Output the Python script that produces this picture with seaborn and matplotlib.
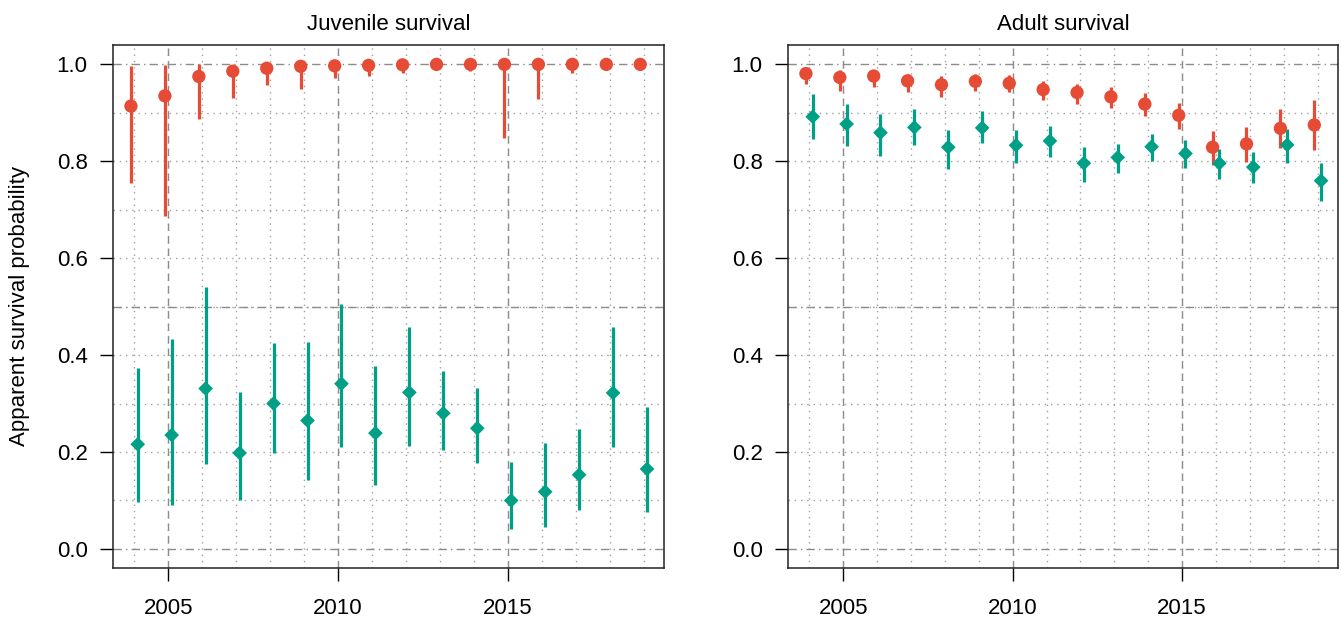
import numpy as np
import pandas as pd
import matplotlib
matplotlib.use("Agg")
import matplotlib.pyplot as plt
import seaborn as sns

# survival estimates by year (mean, lower and upper credible bounds)
years = np.arange(2004, 2020)

juv_red_mean = [0.914, 0.935, 0.975, 0.986, 0.992, 0.996, 0.997, 0.998,
                0.999, 1.000, 1.000, 1.000, 1.000, 1.000, 1.000, 1.000]
juv_red_low = [0.756, 0.687, 0.888, 0.931, 0.958, 0.950, 0.971, 0.975,
               0.983, 0.998, 0.986, 0.849, 0.929, 0.983, 0.999, 0.999]
juv_red_high = [0.996, 0.998, 1.000, 0.999, 1.000, 1.000, 1.000, 1.000,
                1.000, 1.000, 1.000, 1.000, 1.000, 1.000, 1.000, 1.000]

juv_green_mean = [0.216, 0.235, 0.331, 0.198, 0.300, 0.265, 0.341, 0.239,
                  0.323, 0.280, 0.249, 0.100, 0.118, 0.153, 0.322, 0.165]
juv_green_low = [0.096, 0.090, 0.175, 0.101, 0.197, 0.142, 0.210, 0.131,
                 0.213, 0.205, 0.177, 0.042, 0.045, 0.081, 0.210, 0.076]
juv_green_high = [0.373, 0.434, 0.541, 0.324, 0.426, 0.428, 0.506, 0.378,
                  0.459, 0.368, 0.332, 0.180, 0.219, 0.247, 0.459, 0.293]

ad_red_mean = [0.981, 0.973, 0.976, 0.966, 0.958, 0.965, 0.961, 0.948,
               0.942, 0.933, 0.918, 0.895, 0.829, 0.836, 0.868, 0.875]
ad_red_low = [0.959, 0.946, 0.954, 0.942, 0.933, 0.946, 0.942, 0.927,
              0.919, 0.911, 0.894, 0.867, 0.793, 0.798, 0.828, 0.824]
ad_red_high = [0.989, 0.988, 0.989, 0.981, 0.975, 0.981, 0.978, 0.966,
               0.960, 0.953, 0.940, 0.920, 0.862, 0.871, 0.907, 0.926]

ad_green_mean = [0.892, 0.877, 0.859, 0.870, 0.829, 0.869, 0.833, 0.842,
                 0.796, 0.808, 0.830, 0.816, 0.796, 0.788, 0.834, 0.760]
ad_green_low = [0.846, 0.832, 0.811, 0.834, 0.784, 0.837, 0.797, 0.808,
                0.757, 0.776, 0.801, 0.787, 0.763, 0.755, 0.796, 0.718]
ad_green_high = [0.938, 0.918, 0.897, 0.907, 0.864, 0.903, 0.864, 0.873,
                 0.829, 0.836, 0.856, 0.844, 0.825, 0.819, 0.867, 0.797]

panel_titles = ["Juvenile survival", "Adult survival"]
group_names = ["red", "green"]
group_colors = {"red": "#E64B35", "green": "#00A087"}
group_markers = {"red": "o", "green": "D"}
group_sizes = {"red": 92, "green": 56}
group_shift = {"red": -0.1, "green": 0.1}


def make_frame(red, green):
    rows = []
    for name, (m, lo, hi) in zip(group_names, [red, green]):
        rows.append(pd.DataFrame({"year": years, "group": name,
                                  "mean": m, "low": lo, "high": hi}))
    df = pd.concat(rows, ignore_index=True)
    df["xpos"] = df["year"] + df["group"].map(group_shift)
    return df


panels = [
    make_frame((juv_red_mean, juv_red_low, juv_red_high),
               (juv_green_mean, juv_green_low, juv_green_high)),
    make_frame((ad_red_mean, ad_red_low, ad_red_high),
               (ad_green_mean, ad_green_low, ad_green_high)),
]

sns.set_theme(style="white")
plt.rcParams["font.family"] = ["Liberation Sans", "DejaVu Sans"]
plt.rcParams["text.color"] = "black"
plt.rcParams["axes.labelcolor"] = "black"
plt.rcParams["xtick.color"] = "black"
plt.rcParams["ytick.color"] = "black"

W, H = 1341, 623
fig = plt.figure(figsize=(W / 100, H / 100), dpi=100)
ax_boxes = [(113.3, 45, 664, 568.3), (788.3, 45, 1338, 568.3)]
grey = "#8c8c8c"

for i, (df, title) in enumerate(zip(panels, panel_titles)):
    x0, y0, x1, y1 = ax_boxes[i]
    ax = fig.add_axes([x0 / W, 1 - y1 / H, (x1 - x0) / W, (y1 - y0) / H])

    # background grid: dotted every year / 0.1, dashed every 5 years, dot-dash at 0, .5, 1
    for yr in years:
        ax.axvline(yr, color="#a0a0a0", lw=1.0, ls=(0, (1, 3.5)), zorder=0)
    for yv in np.arange(0.1, 1.0, 0.1):
        ax.axhline(yv, color="#a0a0a0", lw=1.0, ls=(0, (1, 3.5)), zorder=0)
    for yr in [2005, 2010, 2015]:
        ax.axvline(yr, color=grey, lw=1.0, ls=(0, (5, 4)), zorder=0.5)
    for yv in [0.0, 0.5, 1.0]:
        ax.axhline(yv, color=grey, lw=1.0, ls=(0, (6, 3, 1, 3)), zorder=0.5)

    for name in group_names:
        sub = df[df["group"] == name]
        ax.vlines(sub["xpos"], sub["low"], sub["high"],
                  color=group_colors[name], lw=2.3, zorder=2)

    sns.scatterplot(data=df, x="xpos", y="mean", hue="group", style="group",
                    palette=group_colors, markers=group_markers,
                    size="group", sizes=group_sizes,
                    edgecolor="none", linewidth=0, legend=False,
                    ax=ax, zorder=3)

    ax.set_xlim(2003.38, 2019.6)
    ax.set_ylim(-0.04, 1.04)
    ax.set_xticks([2005, 2010, 2015])
    ax.set_yticks(np.arange(0, 1.01, 0.2))
    ax.set_yticklabels([f"{v:.1f}" for v in np.arange(0, 1.01, 0.2)])
    ax.set_xlabel("")
    ax.set_ylabel("")
    ax.set_title(title, fontsize=16, pad=11, color="black")
    ax.tick_params(axis="both", which="major", labelsize=16, length=9.5,
                   width=1.0, color="black", labelcolor="black",
                   direction="out", bottom=True, left=True)
    ax.tick_params(axis="x", pad=12)
    ax.tick_params(axis="y", pad=9)
    for sp in ax.spines.values():
        sp.set_visible(True)
        sp.set_color("#222222")
        sp.set_linewidth(1.1)

fig.text(20 / W, 1 - 306.5 / H, "Apparent survival probability",
         rotation=90, ha="center", va="center", fontsize=16, color="black")

fig.savefig("out.png", dpi=100)
